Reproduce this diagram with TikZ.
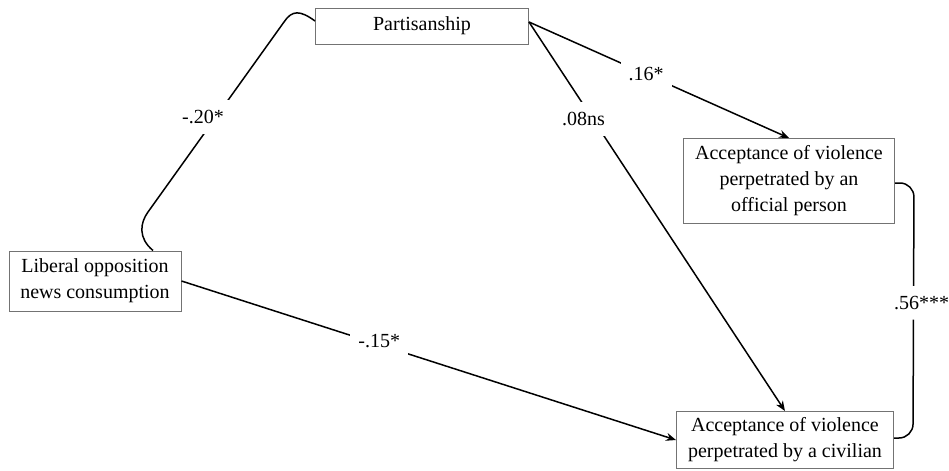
\documentclass[tikz,border=0pt]{standalone}
\usepackage{fontspec}
\setmainfont{Liberation Serif}
\usetikzlibrary{positioning,calc,arrows.meta}
\tikzset{>={Stealth[length=5pt,width=4pt]}}
\tikzset{var/.style={draw=black!55,line width=.5pt,fill=white,align=center,inner sep=0pt,
    font=\fontsize{10}{13}\selectfont},
  coef/.style={fill=white,inner xsep=4pt,inner ysep=5pt,font=\fontsize{10}{12}\selectfont}}

\begin{document}
\begin{tikzpicture}[x=.5pt,y=-.5pt,line width=.75pt]
\useasboundingbox (0,0) rectangle (949,471);
\node[var,minimum width=106.5pt,minimum height=18pt] (P) at (422,26) {Partisanship};
\node[var,minimum width=105.5pt,minimum height=42.5pt] (O) at (789,181)
  {Acceptance of violence\\perpetrated by an\\official person};
\node[var,minimum width=86pt,minimum height=30pt] (L) at (95,281)
  {Liberal opposition\\news consumption};
\node[var,minimum width=108.5pt,minimum height=28.5pt] (C) at (785,440)
  {Acceptance of violence\\perpetrated by a civilian};

\draw ($(P.west)+(0,-5)$) .. controls (300,10) and (292,10) .. (284,22)
  -- node[coef,pos=.5,xshift=-6.5pt] {-.20*} (148,212)
  .. controls (140,223) and (138,238) .. ($(L.north)+(58,0)$);
\draw[->] ($(P.east)+(0,-4)$) -- node[coef,pos=.45] {.16*} (O.north);
\draw[->] ($(P.east)+(0,-4)$) -- node[coef,pos=.25,xshift=-4.75pt] {.08ns} (C.north);
\draw[->] (L.east) -- node[coef,pos=.4,yshift=2pt] {-.15*} (C.west);
%\draw[->] (O.south) -- (C.north);
\draw[rounded corners=7pt] ($(O.east)+(0,2)$) -- ++(19,0)
  -- node[coef,pos=.47,xshift=4pt] {.56***} ($(C.east)+(19,-2)$) -- ($(C.east)+(0,-2)$);
\end{tikzpicture}
\end{document}
